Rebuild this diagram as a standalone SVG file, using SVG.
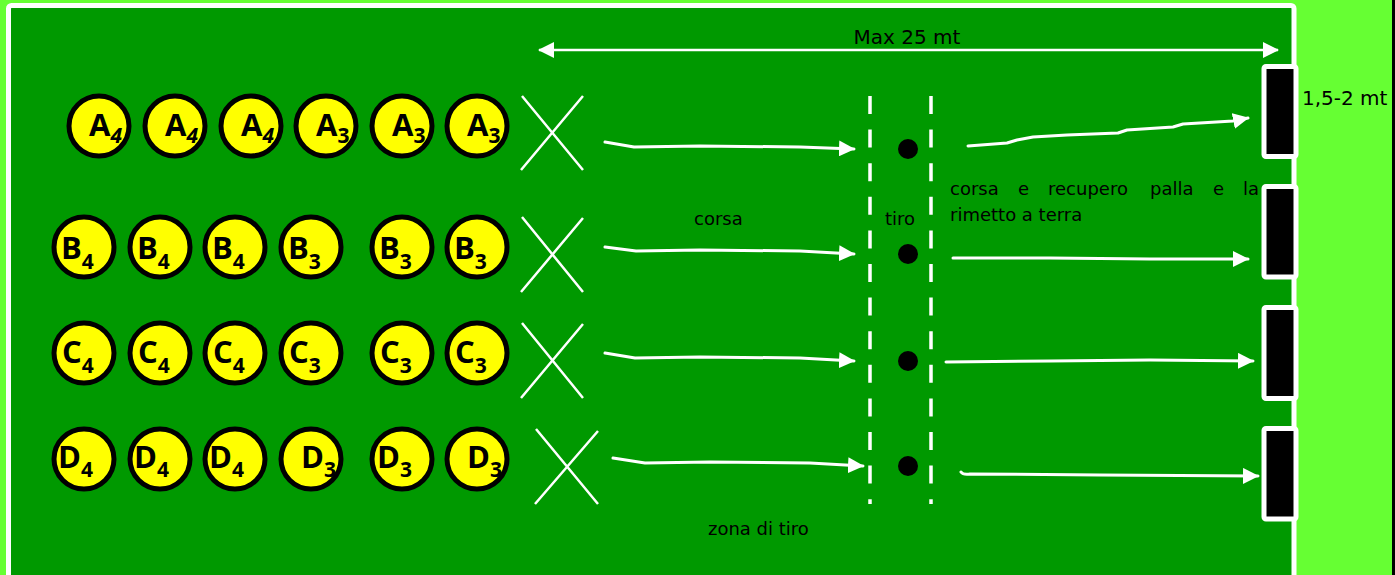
<svg xmlns="http://www.w3.org/2000/svg" width="1395" height="575" viewBox="0 0 1395 575">
<defs>
<marker id="ah" viewBox="0 0 16 16" refX="15" refY="8" markerWidth="16" markerHeight="16" markerUnits="userSpaceOnUse" orient="auto-start-reverse">
<path d="M0,0 L16,8 L0,16 Z" fill="#fff"/>
</marker>
<style>
.p{fill:#ffff00;stroke:#000;stroke-width:5}
.lb{font-family:"Open Sans","DejaVu Sans",sans-serif;font-weight:bold;fill:#000;font-size:31px}
.s{font-size:21px}
.t{font-family:"DejaVu Sans","Liberation Sans",sans-serif;fill:#000;font-size:18px}
.x{stroke:#fff;stroke-width:2.5;fill:none}
.ar{stroke:#fff;stroke-width:3;fill:none;stroke-linecap:round;stroke-linejoin:round;marker-end:url(#ah)}
.dash{stroke:#fff;stroke-width:3.5;stroke-dasharray:18 15.6}
.goal{fill:#000;stroke:#fff;stroke-width:5}
</style>
</defs>
<rect x="0" y="0" width="1395" height="575" fill="#66ff33"/>
<rect id="field" x="8.5" y="5.5" width="1285.5" height="620" rx="3" fill="#009900" stroke="#fff" stroke-width="5"/>

<g id="goals">
<rect id="goal1" class="goal" x="1264" y="66.5" width="32" height="90" rx="2"/>
<rect id="goal2" class="goal" x="1264" y="186.5" width="32" height="90.5" rx="2"/>
<rect id="goal3" class="goal" x="1264" y="307.5" width="32" height="91" rx="2"/>
<rect id="goal4" class="goal" x="1264" y="428.5" width="32" height="90.5" rx="2"/>
</g>

<g id="zone">
<line class="dash" x1="870" y1="96" x2="870" y2="504"/>
<line class="dash" x1="931" y1="96" x2="931" y2="504"/>
<circle cx="908" cy="149" r="10" fill="#000"/>
<circle cx="908" cy="254" r="10" fill="#000"/>
<circle cx="908" cy="361" r="10" fill="#000"/>
<circle cx="908" cy="466" r="10" fill="#000"/>
</g>

<g id="crosses">
<path class="x" d="M522,96 L583,170 M583,96 L521,170"/>
<path class="x" d="M522,217 L583,292 M583,218 L521,292"/>
<path class="x" d="M522,323 L583,398 M583,324 L521,398"/>
<path class="x" d="M536,429 L598,504 M598,431 L535,504"/>
</g>

<g id="rowA">
<g id="A1"><circle class="p" cx="99" cy="126" r="30"/><text class="lb" x="89" y="136">A<tspan class="s" dy="7" font-style="italic">4</tspan></text></g>
<g id="A2"><circle class="p" cx="175" cy="126" r="30"/><text class="lb" x="165" y="136">A<tspan class="s" dy="7" font-style="italic">4</tspan></text></g>
<g id="A3"><circle class="p" cx="251" cy="126" r="30"/><text class="lb" x="241" y="136">A<tspan class="s" dy="7" font-style="italic">4</tspan></text></g>
<g id="A4"><circle class="p" cx="326" cy="126" r="30"/><text class="lb" x="316" y="136">A<tspan class="s" dy="7">3</tspan></text></g>
<g id="A5"><circle class="p" cx="402" cy="126" r="30"/><text class="lb" x="392" y="136">A<tspan class="s" dy="7">3</tspan></text></g>
<g id="A6"><circle class="p" cx="477" cy="126" r="30"/><text class="lb" x="467" y="136">A<tspan class="s" dy="7">3</tspan></text></g>
</g>

<g id="rowB">
<g id="B1"><circle class="p" cx="84" cy="247" r="30"/><text class="lb" x="61" y="259">B<tspan class="s" dy="10">4</tspan></text></g>
<g id="B2"><circle class="p" cx="160" cy="247" r="30"/><text class="lb" x="137" y="259">B<tspan class="s" dy="10">4</tspan></text></g>
<g id="B3"><circle class="p" cx="235" cy="247" r="30"/><text class="lb" x="212" y="259">B<tspan class="s" dy="10">4</tspan></text></g>
<g id="B4"><circle class="p" cx="311" cy="247" r="30"/><text class="lb" x="288" y="259">B<tspan class="s" dy="10">3</tspan></text></g>
<g id="B5"><circle class="p" cx="402" cy="247" r="30"/><text class="lb" x="379" y="259">B<tspan class="s" dy="10">3</tspan></text></g>
<g id="B6"><circle class="p" cx="477" cy="247" r="30"/><text class="lb" x="454" y="259">B<tspan class="s" dy="10">3</tspan></text></g>
</g>

<g id="rowC">
<g id="C1"><circle class="p" cx="84" cy="353" r="30"/><text class="lb" x="62" y="363">C<tspan class="s" dy="10">4</tspan></text></g>
<g id="C2"><circle class="p" cx="160" cy="353" r="30"/><text class="lb" x="138" y="363">C<tspan class="s" dy="10">4</tspan></text></g>
<g id="C3"><circle class="p" cx="235" cy="353" r="30"/><text class="lb" x="213" y="363">C<tspan class="s" dy="10">4</tspan></text></g>
<g id="C4"><circle class="p" cx="311" cy="353" r="30"/><text class="lb" x="289" y="363">C<tspan class="s" dy="10">3</tspan></text></g>
<g id="C5"><circle class="p" cx="402" cy="353" r="30"/><text class="lb" x="380" y="363">C<tspan class="s" dy="10">3</tspan></text></g>
<g id="C6"><circle class="p" cx="477" cy="353" r="30"/><text class="lb" x="455" y="363">C<tspan class="s" dy="10">3</tspan></text></g>
</g>

<g id="rowD">
<g id="D1"><circle class="p" cx="84" cy="459" r="30"/><text class="lb" x="58" y="468">D<tspan class="s" dy="9">4</tspan></text></g>
<g id="D2"><circle class="p" cx="160" cy="459" r="30"/><text class="lb" x="134" y="468">D<tspan class="s" dy="9">4</tspan></text></g>
<g id="D3"><circle class="p" cx="235" cy="459" r="30"/><text class="lb" x="209" y="468">D<tspan class="s" dy="9">4</tspan></text></g>
<g id="D4"><circle class="p" cx="311" cy="459" r="30"/><text class="lb" x="301" y="468">D<tspan class="s" dy="9">3</tspan></text></g>
<g id="D5"><circle class="p" cx="402" cy="459" r="30"/><text class="lb" x="377" y="468">D<tspan class="s" dy="9">3</tspan></text></g>
<g id="D6"><circle class="p" cx="477" cy="459" r="30"/><text class="lb" x="467" y="468">D<tspan class="s" dy="9">3</tspan></text></g>
</g>

<g id="connectors">
<line x1="539" y1="50" x2="1278" y2="50" stroke="#fff" stroke-width="2.5" marker-start="url(#ah)" marker-end="url(#ah)"/>
<path class="ar" d="M605,142 L634,147 L700,146 L800,147 L854,149"/>
<path class="ar" d="M605,247 L636,251 L700,250 L800,251 L854,254"/>
<path class="ar" d="M605,353 L635,358 L700,357 L800,358 L854,361"/>
<path class="ar" d="M613,458 L645,463 L710,462 L810,463 L863,466"/>
<path class="ar" d="M968,146 L1007,143 L1017,140 L1033,137 L1067,135 L1118,133 L1127,130 L1173,127 L1183,124 L1233,121 L1248,118"/>
<path class="ar" d="M953,258 L1050,258 L1150,259 L1248,259"/>
<path class="ar" d="M946,362 L1050,361 L1150,360 L1253,361"/>
<path class="ar" d="M961,472 Q963,475 970,474 L1100,475 L1258,476"/>
</g>

<g id="labels">
<text class="t" x="907" y="44" text-anchor="middle" style="font-size:20px">Max 25 mt</text>
<text class="t" x="1302" y="105" style="font-size:20px">1,5-2 mt</text>
<text class="t" x="694" y="225">corsa</text>
<text class="t" x="885" y="225">tiro</text>
<text class="t" y="195"><tspan x="950">corsa</tspan><tspan x="1018">e</tspan><tspan x="1048">recupero</tspan><tspan x="1150">palla</tspan><tspan x="1213">e</tspan><tspan x="1243">la</tspan></text>
<text class="t" x="950" y="221">rimetto a terra</text>
<text class="t" x="708" y="535">zona di tiro</text>
</g>
<rect x="1392" y="0" width="3" height="575" fill="#000"/>
</svg>
